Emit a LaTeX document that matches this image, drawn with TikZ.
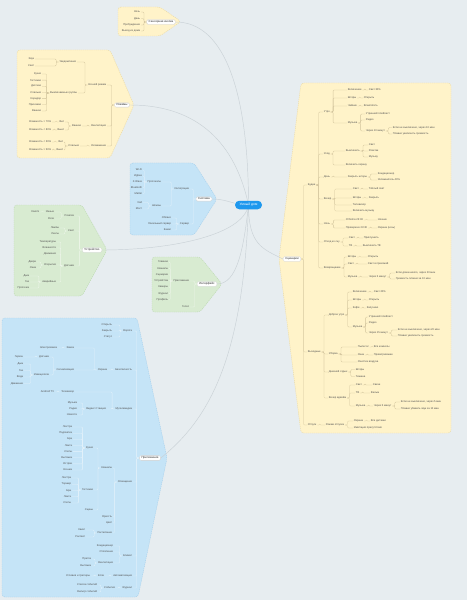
\documentclass[tikz,border=0pt]{standalone}
\usepackage{fontspec}
\setmainfont{Liberation Sans}
\definecolor{canvas}{HTML}{E7EDF0}
\definecolor{zoneyellow}{HTML}{FFF3C9}
\definecolor{zonegreen}{HTML}{D8EBD1}
\definecolor{zoneblue}{HTML}{C5E4F7}
\definecolor{edgeyellow}{HTML}{EAD9A2}
\definecolor{edgegreen}{HTML}{BBD9B0}
\definecolor{edgeblue}{HTML}{A3CFEC}
\definecolor{linkyellow}{HTML}{D2C49C}
\definecolor{linkgreen}{HTML}{EEF6EA}
\definecolor{linkblue}{HTML}{E4F2FB}
\definecolor{hubblue}{HTML}{1E98EE}
\definecolor{spokegray}{HTML}{C9D1D6}
\definecolor{inkgray}{HTML}{505050}
\colorlet{linkc}{black!30}
\pgfdeclarelayer{back}
\pgfsetlayers{back,main}
\newcommand{\linkL}[2]{%
  \draw[branch] (#1.west) -- ++(-2.5,0) |- (#2.east);%
}
\newcommand{\linkR}[2]{%
  \draw[branch] (#1.east) -- ++(2.5,0) |- (#2.west);%
}

\begin{document}
\begin{tikzpicture}[
  x=1bp,
  y=-1bp,
  every node/.style={font=\fontsize{2.65}{3.1}\selectfont, text=inkgray, inner sep=0.7pt},
  hub/.style={fill=hubblue, text=white, rounded corners=4.2bp, minimum width=27bp, minimum height=8.5bp, font=\fontsize{3.4}{4}\selectfont},
  topic/.style={fill=white, draw=black!18, line width=0.3pt, rounded corners=1.5bp, inner xsep=2.2pt, inner ysep=1.1pt, text=black!85, font=\fontsize{2.9}{3.3}\selectfont},
  lt/.style={anchor=east},
  rt/.style={anchor=west},
  branch/.style={draw=linkc, line width=0.3pt, rounded corners=1bp},
  spoke/.style={draw=spokegray, line width=0.45pt},
  zone/.style={dash pattern=on 1.2bp off 0.9bp, line width=0.4pt, rounded corners=3bp}
]
  \useasboundingbox (0,0) rectangle (467,600);

  % Central topic.
  \node[hub] (hub) at (248.5,205) {Умный дом};

  % Touch-button component.
  \begin{scope}
  \colorlet{linkc}{linkyellow}
  \node[topic] (knopka) at (161,22) {Сенсорная кнопка};
  \foreach \t/\y [count=\i] in {Ночь/12, День/18.5, Пробуждение/25, Выход из дома/31} {
    \node[lt] (kn\i) at (141,\y) {\t};
    \linkL{knopka}{kn\i}
  }
  \end{scope}

  % Modes component.
  \begin{scope}
  \colorlet{linkc}{linkyellow}
  \node[topic] (rezhimy) at (122,105) {Режимы};
  \node[lt] (rz1) at (107,85) {Ночной режим};
  \node[lt] (rz2) at (107,126) {Вентиляция};
  \node[lt] (rz3) at (107,146) {Увлажнение};
  \foreach \n in {1,2,3} {\linkL{rezhimy}{rz\n}}
  \node[lt] (rz11) at (77,62) {Уведомления};
  \node[lt] (rz12) at (78,93) {Выключаемые группы};
  \linkL{rz1}{rz11} \linkL{rz1}{rz12}
  \node[lt] (rz111) at (35,59) {Звук};
  \node[lt] (rz112) at (35,66) {Свет};
  \linkL{rz11}{rz111} \linkL{rz11}{rz112}
  \foreach \t [count=\i] in {Кухня,Гостиная,Детская,Спальня,Коридор,Прихожая,Ванная} {
    \node[lt] (rz12\i) at (42,{67.8+6.17*\i}) {\t};
    \linkL{rz12}{rz12\i}
  }
  \node[lt] (rz21) at (82,126) {Ванная};
  \node[lt] (rz211) at (65,122) {Вкл};
  \node[lt] (rz212) at (65,130) {Выкл};
  \node[lt] (rz2111) at (52,122) {Влажность > 70\%};
  \node[lt] (rz2121) at (52,130) {Влажность < 60\%};
  \linkL{rz2}{rz21} \linkL{rz21}{rz211} \linkL{rz21}{rz212}
  \linkL{rz211}{rz2111} \linkL{rz212}{rz2121}
  \node[lt] (rz31) at (80,146) {Спальня};
  \node[lt] (rz311) at (64,142) {Вкл};
  \node[lt] (rz312) at (64,150) {Выкл};
  \node[lt] (rz3111) at (52,142) {Влажность < 30\%};
  \node[lt] (rz3121) at (52,150) {Влажность > 50\%};
  \linkL{rz3}{rz31} \linkL{rz31}{rz311} \linkL{rz31}{rz312}
  \linkL{rz311}{rz3111} \linkL{rz312}{rz3121}
  \end{scope}

  % System component.
  \begin{scope}
  \colorlet{linkc}{linkblue}
  \node[topic] (sistema) at (204,199) {Система};
  \node[lt] (si1) at (190,189) {Интеграции};
  \node[lt] (si2) at (190,224) {Сервер};
  \linkL{sistema}{si1} \linkL{sistema}{si2}
  \node[lt] (si11) at (162,182) {Протоколы};
  \node[lt] (si12) at (162,206) {Шлюзы};
  \linkL{si1}{si11} \linkL{si1}{si12}
  \foreach \t [count=\i] in {Wi-Fi,Zigbee,Z-Wave,Bluetooth,Matter} {
    \node[lt] (si11\i) at (143,{164+6*\i}) {\t};
    \linkL{si11}{si11\i}
  }
  \node[lt] (si121) at (143,202.5) {Хаб};
  \node[lt] (si122) at (143,209) {Мост};
  \linkL{si12}{si121} \linkL{si12}{si122}
  \foreach \t/\y [count=\i] in {Облако/218, Локальный сервер/224, Бэкап/230} {
    \node[lt] (si2\i) at (172,\y) {\t};
    \linkL{si2}{si2\i}
  }
  \end{scope}

  % Device component.
  \begin{scope}
  \colorlet{linkc}{linkgreen}
  \node[topic] (ustr) at (92,250) {Устройство};
  \node[lt] (us1) at (75,216) {Розетки};
  \node[lt] (us2) at (75,231) {Свет};
  \node[lt] (us3) at (75,266) {Датчики};
  \foreach \n in {1,2,3} {\linkL{ustr}{us\n}}
  \node[lt] (us11) at (55,212) {Умные};
  \node[lt] (us12) at (55,219) {Реле};
  \node[lt] (us111) at (40,212) {Xiaomi};
  \linkL{us1}{us11} \linkL{us1}{us12} \linkL{us11}{us111}
  \node[lt] (us21) at (60,228) {Лампы};
  \node[lt] (us22) at (60,234) {Ленты};
  \linkL{us2}{us21} \linkL{us2}{us22}
  \foreach \t/\y [count=\i] in {Температуры/242, Влажности/248, Движения/254, Открытия/265, Аварийные/282} {
    \node[lt] (us3\i) at (57,\y) {\t};
    \linkL{us3}{us3\i}
  }
  \node[lt] (us341) at (37,262) {Двери};
  \node[lt] (us342) at (37,268) {Окна};
  \linkL{us34}{us341} \linkL{us34}{us342}
  \foreach \t/\y [count=\i] in {Дым/276, Газ/282, Протечка/288} {
    \node[lt] (us35\i) at (30,\y) {\t};
    \linkL{us35}{us35\i}
  }
  \end{scope}

  % Interface component.
  \begin{scope}
  \colorlet{linkc}{linkgreen}
  \node[topic] (interf) at (207,284) {Интерфейс};
  \node[lt] (in1) at (190,281) {Приложение};
  \node[lt] (in2) at (190,307) {Голос};
  \linkL{interf}{in1} \linkL{interf}{in2}
  \foreach \t [count=\i] in {Главная,Комнаты,Сценарии,Устройства,Камеры,Журнал,Профиль} {
    \node[lt] (in1\i) at (169,{255.7+6.33*\i}) {\t};
    \linkL{in1}{in1\i}
  }
  \end{scope}

  % Applications component.
  \begin{scope}
  \colorlet{linkc}{linkblue}
  \node[topic] (prilozh) at (150,458) {Приложения};
  \node[lt] (ap1) at (133,331) {Ворота};
  \node[lt] (ap2) at (133,370) {Безопасность};
  \node[lt] (ap3) at (133,409) {Мультимедиа};
  \node[lt] (ap4) at (133,482) {Освещение};
  \node[lt] (ap5) at (133,556) {Климат};
  \node[lt] (ap6) at (133,576) {Автоматизация};
  \node[lt] (ap7) at (133,588) {Журнал};
  \foreach \n in {1,...,7} {\linkL{prilozh}{ap\n}}
  \foreach \t/\y [count=\i] in {Открыть/325, Закрыть/331, Статус/337} {
    \node[lt] (ap1\i) at (113,\y) {\t};
    \linkL{ap1}{ap1\i}
  }
  % security
  \node[lt] (ap21) at (108,370) {Охрана};
  \node[lt] (ap211) at (75,348) {Замок};
  \node[lt] (ap212) at (75,370) {Сигнализация};
  \node[lt] (ap2111) at (58,348) {Электрозамок};
  \linkL{ap2}{ap21} \linkL{ap21}{ap211} \linkL{ap21}{ap212} \linkL{ap211}{ap2111}
  \node[lt] (ap2121) at (50,357) {Датчики};
  \node[lt] (ap2122) at (50,375) {Извещатели};
  \node[lt] (ap21211) at (24,357) {Геркон};
  \linkL{ap212}{ap2121} \linkL{ap212}{ap2122} \linkL{ap2121}{ap21211}
  \foreach \t [count=\i] in {Дым,Газ,Вода,Движение} {
    \node[lt] (ap2122\i) at (24,{357.5+6.5*\i}) {\t};
    \linkL{ap2122}{ap2122\i}
  }
  % multimedia
  \node[lt] (ap31) at (75,392) {Телевизор};
  \node[lt] (ap311) at (55,392) {Android TV};
  \node[lt] (ap32) at (107,409) {Яндекс Станция};
  \linkL{ap3}{ap31} \linkL{ap31}{ap311} \linkL{ap3}{ap32}
  \foreach \t/\y [count=\i] in {Музыка/403, Радио/409, Новости/415} {
    \node[lt] (ap32\i) at (78,\y) {\t};
    \linkL{ap32}{ap32\i}
  }
  % lighting
  \node[lt] (ap41) at (113,468) {Комнаты};
  \node[lt] (ap42) at (113,517) {Яркость};
  \node[lt] (ap43) at (113,523) {Цвет};
  \node[lt] (ap44) at (113,533) {Расписание};
  \foreach \n in {1,...,4} {\linkL{ap4}{ap4\n}}
  \node[lt] (ap411) at (94,448) {Кухня};
  \node[lt] (ap412) at (94,490) {Гостиная};
  \node[lt] (ap413) at (94,510) {Сцены};
  \foreach \n in {1,2,3} {\linkL{ap41}{ap41\n}}
  \foreach \t [count=\i] in {Люстра,Подсветка,Бра,Лента,Споты,Вытяжка,Остров,Ночник} {
    \node[lt] (ap411\i) at (73,{420.9+6.14*\i}) {\t};
    \linkL{ap411}{ap411\i}
  }
  \foreach \t [count=\i] in {Люстра,Торшер,Бра,Лента,Споты} {
    \node[lt] (ap412\i) at (72,{471.75+6.25*\i}) {\t};
    \linkL{ap412}{ap412\i}
  }
  \node[lt] (ap441) at (86,530) {Закат};
  \node[lt] (ap442) at (86,537) {Рассвет};
  \linkL{ap44}{ap441} \linkL{ap44}{ap442}
  % climate
  \node[lt] (ap51) at (114,546) {Кондиционер};
  \node[lt] (ap52) at (114,552) {Отопление};
  \node[lt] (ap53) at (114,563) {Вентиляция};
  \foreach \n in {1,2,3} {\linkL{ap5}{ap5\n}}
  \node[lt] (ap531) at (92,559) {Приток};
  \node[lt] (ap532) at (92,566) {Вытяжка};
  \linkL{ap53}{ap531} \linkL{ap53}{ap532}
  % automation and log
  \node[lt] (ap61) at (105,576) {Если};
  \node[lt] (ap611) at (91,576) {Условия и триггеры};
  \linkL{ap6}{ap61} \linkL{ap61}{ap611}
  \node[lt] (ap71) at (116,588) {События};
  \node[lt] (ap711) at (98,585) {Список событий};
  \node[lt] (ap712) at (98,592) {Фильтр событий};
  \linkL{ap7}{ap71} \linkL{ap71}{ap711} \linkL{ap71}{ap712}
  \end{scope}

  % Scenarios component.
  \begin{scope}
  \colorlet{linkc}{linkyellow}
  \node[topic] (scen) at (292,259) {Сценарии};
  \node[rt] (sc1) at (307,185) {Будни};
  \node[rt] (sc2) at (307,352) {Выходные};
  \node[rt] (sc3) at (307,425) {Отпуск};
  \foreach \n in {1,2,3} {\linkR{scen}{sc\n}}
  % weekdays
  \node[rt] (sc11) at (323,112) {Утро};
  \node[rt] (sc12) at (323,154) {Уход};
  \node[rt] (sc13) at (323,177) {День};
  \node[rt] (sc14) at (323,199) {Вечер};
  \node[rt] (sc15) at (323,224) {Ночь};
  \node[rt] (sc16) at (323,242) {Отход ко сну};
  \node[rt] (sc17) at (323,268) {Возвращение};
  \foreach \n in {11,...,17} {\linkR{sc1}{sc\n}}
  \node[rt] (sc11a) at (347,90) {Включение};
  \node[rt] (sc11b) at (347,98) {Шторы};
  \node[rt] (sc11c) at (347,106) {Чайник};
  \node[rt] (sc11d) at (347,123) {Музыка};
  \foreach \n in {a,b,c,d} {\linkR{sc11}{sc11\n}}
  \node[rt] (sc11a1) at (368,90) {Свет 30\%};
  \node[rt] (sc11b1) at (363,98) {Открыть};
  \node[rt] (sc11c1) at (363,106) {Вскипятить};
  \linkR{sc11a}{sc11a1} \linkR{sc11b}{sc11b1} \linkR{sc11c}{sc11c1}
  \node[rt] (sc11d1) at (365,114) {Утренний плейлист};
  \node[rt] (sc11d2) at (365,120) {Радио};
  \node[rt] (sc11d3) at (365,131) {Через 10 минут};
  \foreach \n in {1,2,3} {\linkR{sc11d}{sc11d\n}}
  \node[rt] (sc11e1) at (392,127.5) {Если не выключено, через 10 мин};
  \node[rt] (sc11e2) at (392,134) {Плавно увеличить громкость};
  \linkR{sc11d3}{sc11e1} \linkR{sc11d3}{sc11e2}
  \node[rt] (sc12a) at (345,151) {Выключить};
  \node[rt] (sc12b) at (345,165) {Включить охрану};
  \linkR{sc12}{sc12a} \linkR{sc12}{sc12b}
  \foreach \t/\y [count=\i] in {Свет/145, Розетки/151, Музыку/157} {
    \node[rt] (sc12a\i) at (368,\y) {\t};
    \linkR{sc12a}{sc12a\i}
  }
  \node[rt] (sc13a) at (347,177) {Закрыть шторы};
  \node[rt] (sc13a1) at (377,174) {Кондиционер};
  \node[rt] (sc13a2) at (377,180) {Увлажнитель 40\%};
  \linkR{sc13}{sc13a} \linkR{sc13a}{sc13a1} \linkR{sc13a}{sc13a2}
  \node[rt] (sc14a) at (352,189) {Свет};
  \node[rt] (sc14b) at (352,198) {Шторы};
  \node[rt] (sc14c) at (352,205) {Телевизор};
  \node[rt] (sc14d) at (352,211) {Включить музыку};
  \foreach \n in {a,b,c,d} {\linkR{sc14}{sc14\n}}
  \node[rt] (sc14a1) at (368,189) {Тёплый свет};
  \node[rt] (sc14b1) at (368,198) {Закрыть};
  \linkR{sc14a}{sc14a1} \linkR{sc14b}{sc14b1}
  \node[rt] (sc15a) at (345,220) {Отбой в 23:00};
  \node[rt] (sc15b) at (345,228) {Проверка в 23:30};
  \node[rt] (sc15a1) at (377,220) {Ночник};
  \node[rt] (sc15b1) at (377,228) {Охрана (ночь)};
  \linkR{sc15}{sc15a} \linkR{sc15}{sc15b} \linkR{sc15a}{sc15a1} \linkR{sc15b}{sc15b1}
  \node[rt] (sc16a) at (348,238) {Свет};
  \node[rt] (sc16b) at (348,246) {ТВ};
  \node[rt] (sc16a1) at (363,238) {Приглушить};
  \node[rt] (sc16b1) at (362,246) {Выключить ТВ};
  \linkR{sc16}{sc16a} \linkR{sc16}{sc16b} \linkR{sc16a}{sc16a1} \linkR{sc16b}{sc16b1}
  \node[rt] (sc17a) at (347,257) {Шторы};
  \node[rt] (sc17b) at (347,264) {Свет};
  \node[rt] (sc17c) at (347,277) {Музыка};
  \foreach \n in {a,b,c} {\linkR{sc17}{sc17\n}}
  \node[rt] (sc17a1) at (367,257) {Открыть};
  \node[rt] (sc17b1) at (367,264) {Свет в прихожей};
  \node[rt] (sc17c1) at (368,277) {Через 5 минут};
  \linkR{sc17a}{sc17a1} \linkR{sc17b}{sc17b1} \linkR{sc17c}{sc17c1}
  \node[rt] (sc17d1) at (395,273) {Если дома никого, через 20 мин};
  \node[rt] (sc17d2) at (395,279) {Громкость плавно за 10 мин};
  \linkR{sc17c1}{sc17d1} \linkR{sc17c1}{sc17d2}
  % weekend
  \node[rt] (sc21) at (328,315) {Доброе утро};
  \node[rt] (sc22) at (328,354) {Уборка};
  \node[rt] (sc23) at (328,372) {Дневной отдых};
  \node[rt] (sc24) at (328,398) {Вечер вдвоём};
  \foreach \n in {21,...,24} {\linkR{sc2}{sc\n}}
  \node[rt] (sc21a) at (352,292) {Включение};
  \node[rt] (sc21b) at (352,300) {Шторы};
  \node[rt] (sc21c) at (352,308) {Кофе};
  \node[rt] (sc21d) at (352,327) {Музыка};
  \foreach \n in {a,b,c,d} {\linkR{sc21}{sc21\n}}
  \node[rt] (sc21a1) at (373,292) {Свет 20\%};
  \node[rt] (sc21b1) at (368,300) {Открыть};
  \node[rt] (sc21c1) at (366,308) {Капучино};
  \linkR{sc21a}{sc21a1} \linkR{sc21b}{sc21b1} \linkR{sc21c}{sc21c1}
  \node[rt] (sc21d1) at (368,317) {Утренний плейлист};
  \node[rt] (sc21d2) at (368,323) {Радио};
  \node[rt] (sc21d3) at (368,333) {Через 15 минут};
  \foreach \n in {1,2,3} {\linkR{sc21d}{sc21d\n}}
  \node[rt] (sc21e1) at (397,330) {Если не выключено, через 20 мин};
  \node[rt] (sc21e2) at (397,336) {Плавно увеличить громкость};
  \linkR{sc21d3}{sc21e1} \linkR{sc21d3}{sc21e2}
  \node[rt] (sc22a) at (357,347) {Пылесос};
  \node[rt] (sc22b) at (357,355) {Окна};
  \node[rt] (sc22c) at (357,362) {Очистка воздуха};
  \foreach \n in {a,b,c} {\linkR{sc22}{sc22\n}}
  \node[rt] (sc22a1) at (373,347) {Все комнаты};
  \node[rt] (sc22b1) at (373,355) {Проветривание};
  \linkR{sc22a}{sc22a1} \linkR{sc22b}{sc22b1}
  \node[rt] (sc23a) at (355,369.5) {Шторы};
  \node[rt] (sc23b) at (355,376.5) {Тишина};
  \linkR{sc23}{sc23a} \linkR{sc23}{sc23b}
  \node[rt] (sc24a) at (355,385) {Свет};
  \node[rt] (sc24b) at (355,393) {ТВ};
  \node[rt] (sc24c) at (355,406) {Музыка};
  \foreach \n in {a,b,c} {\linkR{sc24}{sc24\n}}
  \node[rt] (sc24a1) at (372,385) {Свечи};
  \node[rt] (sc24b1) at (370,393) {Фильм};
  \node[rt] (sc24c1) at (373,406) {Через 5 минут};
  \linkR{sc24a}{sc24a1} \linkR{sc24b}{sc24b1} \linkR{sc24c}{sc24c1}
  \node[rt] (sc24d1) at (400,402) {Если не выключено, через 5 мин};
  \node[rt] (sc24d2) at (400,409) {Плавно убавить звук за 10 мин};
  \linkR{sc24c1}{sc24d1} \linkR{sc24c1}{sc24d2}
  % holiday
  \node[rt] (sc31) at (325,425) {Режим отпуска};
  \node[rt] (sc31a) at (353,421) {Охрана};
  \node[rt] (sc31b) at (353,428) {Имитация присутствия};
  \node[rt] (sc31a1) at (370,421) {Все датчики};
  \linkR{sc3}{sc31} \linkR{sc31}{sc31a} \linkR{sc31}{sc31b} \linkR{sc31a}{sc31a1}
  \end{scope}

  % Zones and spokes behind everything.
  \begin{pgfonlayer}{back}
    \fill[canvas] (0,0) rectangle (467,600);
    \filldraw[zone, fill=zoneyellow, draw=edgeyellow] (118,7) -- (160,7) -- (181,21.5) -- (160,36) -- (118,36) -- cycle;
    \filldraw[zone, fill=zoneyellow, draw=edgeyellow] (17,50) -- (110,50) -- (134,105) -- (110,158) -- (17,158) -- cycle;
    \filldraw[zone, fill=zoneblue, draw=edgeblue] (130,163) -- (194,163) -- (217,199) -- (194,235) -- (130,235) -- cycle;
    \filldraw[zone, fill=zonegreen, draw=edgegreen] (14,205) -- (82,205) -- (107,250) -- (82,296) -- (14,296) -- cycle;
    \filldraw[zone, fill=zonegreen, draw=edgegreen] (152,257) -- (200,257) -- (222,284) -- (200,312) -- (152,312) -- cycle;
    \filldraw[zone, fill=zoneblue, draw=edgeblue] (2,318) -- (137,318) -- (167,458) -- (138,597) -- (2,597) -- cycle;
    \filldraw[zone, fill=zoneyellow, draw=edgeyellow] (301,83) -- (451,83) -- (451,433) -- (301,433) -- (279,259) -- cycle;

    \draw[spoke] (hub.center) .. controls +(0,-110) and +(50,0) .. (knopka.east);
    \draw[spoke] (hub.center) .. controls +(-15,-70) and +(60,0) .. (rezhimy.east);
    \draw[spoke] (hub.center) .. controls +(-15,0) and +(15,0) .. (sistema.east);
    \draw[spoke] (hub.center) .. controls +(-5,30) and +(70,0) .. (ustr.east);
    \draw[spoke] (hub.center) .. controls +(-5,45) and +(20,0) .. (interf.east);
    \draw[spoke] (hub.center) .. controls +(-5,150) and +(50,-40) .. (prilozh.east);
    \draw[spoke] (hub.center) .. controls +(0,40) and +(-20,-10) .. (scen.west);
  \end{pgfonlayer}
\end{tikzpicture}
\end{document}
